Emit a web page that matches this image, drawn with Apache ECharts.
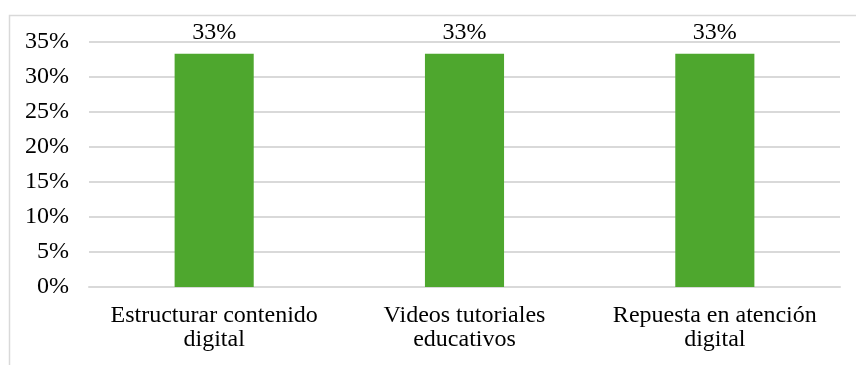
<!DOCTYPE html>
<html>
<head>
<meta charset="utf-8">
<script src="https://cdn.jsdelivr.net/npm/echarts@6/dist/echarts.min.js"></script>
<style>
  html, body { margin: 0; padding: 0; background: #fff; }
  #chart { width: 856px; height: 365px; }
</style>
</head>
<body>
<div id="chart"></div>
<script>
// Share of each digital-skill topic (percent)
const categories = [
  'Estructurar contenido\ndigital',
  'Videos tutoriales\neducativos',
  'Repuesta en atención\ndigital'
];
const values = [33.33, 33.33, 33.33];
const valueLabels = ['33%', '33%', '33%'];
const yTicks = { min: 0, max: 35, interval: 5 };

const serif = '"Liberation Serif", "Times New Roman", serif';
const chart = echarts.init(document.getElementById('chart'), null, { renderer: 'canvas' });

chart.setOption({
  animation: false,
  backgroundColor: '#fff',
  graphic: [{
    type: 'rect',
    left: 7, top: 13,
    shape: { width: 900, height: 400 },
    style: { fill: 'none', stroke: '#d9d9d9', lineWidth: 1.5 },
    silent: true
  }],
  grid: { left: 89, right: 16, top: 42, bottom: 78 },
  xAxis: {
    type: 'category',
    data: categories,
    axisLine: { show: true, lineStyle: { color: '#d9d9d9', width: 2 } },
    axisTick: { show: false },
    axisLabel: {
      interval: 0, hideOverlap: false,
      color: '#000', fontFamily: serif, fontSize: 24, lineHeight: 24, margin: 17
    }
  },
  yAxis: {
    type: 'value',
    min: yTicks.min, max: yTicks.max, interval: yTicks.interval,
    axisLine: { show: false },
    axisTick: { show: false },
    splitLine: { lineStyle: { color: '#d9d9d9', width: 2 } },
    axisLabel: {
      color: '#000', fontFamily: serif, fontSize: 24, margin: 20,
      formatter: v => v + '%'
    }
  },
  series: [{
    type: 'bar',
    data: values,
    barWidth: '31.6%',
    itemStyle: { color: '#4ea72e' },
    label: {
      show: true, position: 'top', distance: 9,
      color: '#000', fontFamily: serif, fontSize: 24,
      formatter: p => valueLabels[p.dataIndex]
    }
  }]
});
</script>
</body>
</html>
